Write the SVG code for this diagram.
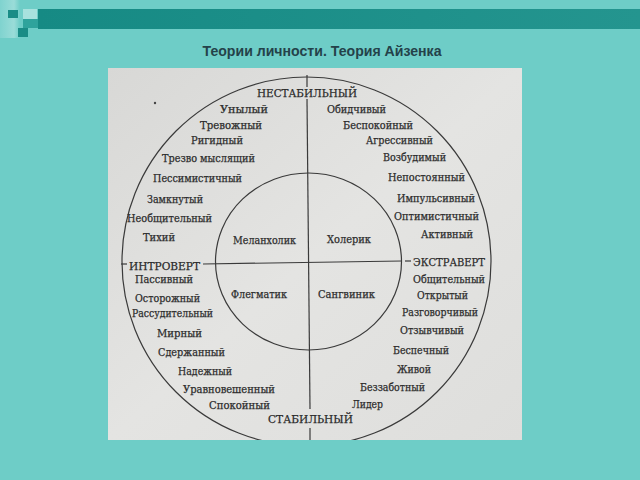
<svg xmlns="http://www.w3.org/2000/svg" width="640" height="480" viewBox="0 0 640 480">
  <defs>
    <linearGradient id="bar" x1="0" y1="0" x2="1" y2="0">
      <stop offset="0" stop-color="#168a84"/>
      <stop offset="1" stop-color="#24958f"/>
    </linearGradient>
    <linearGradient id="strip" x1="0" y1="0" x2="1" y2="0">
      <stop offset="0" stop-color="#7fd3cf"/>
      <stop offset="0.7" stop-color="#9adcd8"/>
      <stop offset="1" stop-color="#6ecdc7"/>
    </linearGradient>
    <linearGradient id="paper" x1="0" y1="0" x2="1" y2="1">
      <stop offset="0" stop-color="#d8d8d6"/>
      <stop offset="0.5" stop-color="#e4e4e2"/>
      <stop offset="1" stop-color="#dededc"/>
    </linearGradient>
    <clipPath id="pageClip">
      <rect x="108" y="68" width="414" height="372"/>
    </clipPath>
    <style>
      .lbl { font-family: "DejaVu Serif", "Liberation Serif", serif; font-size: 10.5px; fill: #2c2c2c; stroke: #2c2c2c; stroke-width: 0.25; }
      .cap { font-family: "DejaVu Serif", "Liberation Serif", serif; font-size: 11.5px; fill: #2a2a2a; stroke: #2a2a2a; stroke-width: 0.25; }
      .ln { fill: none; stroke: #3a3a3a; stroke-width: 1.2; }
    </style>
  </defs>

  <g id="background">
    <rect x="0" y="0" width="640" height="480" fill="#6ecdc7"/>
    <rect x="0" y="0" width="20" height="38" fill="url(#strip)"/>
    <rect x="38" y="9" width="602" height="20" fill="url(#bar)"/>
    <rect x="8" y="10" width="10" height="8" fill="#1a8c86"/>
    <rect x="23" y="9" width="14" height="10" fill="#a8e2de"/>
    <rect x="23" y="19" width="15" height="9" fill="#2fa39c"/>
    <rect x="18" y="28" width="10" height="9" fill="#1a8c86"/>
  </g>

  <g id="title">
    <text x="322" y="56" text-anchor="middle" textLength="239" lengthAdjust="spacingAndGlyphs" font-family="Liberation Sans, Arial, sans-serif" font-size="14" font-weight="bold" fill="#24424a">Теории личности. Теория Айзенка</text>
  </g>

  <g id="page">
    <rect x="108" y="68" width="414" height="372" fill="url(#paper)"/>
    <circle cx="155" cy="103" r="1.2" fill="#444"/>
  </g>

  <g id="connectors">
    <circle class="ln" cx="306.5" cy="261.5" r="184.5" clip-path="url(#pageClip)"/>
    <ellipse class="ln" cx="308.5" cy="261.5" rx="93" ry="88.5"/>
    <line class="ln" x1="307" y1="75" x2="307" y2="87"/>
    <line class="ln" x1="307" y1="99" x2="310" y2="409"/>
    <line class="ln" x1="310" y1="428" x2="310" y2="440"/>
    <line class="ln" x1="121" y1="264" x2="127" y2="264"/>
    <line class="ln" x1="203" y1="264" x2="402" y2="261"/>
    <line class="ln" x1="405" y1="261" x2="411" y2="261"/>
  </g>

  <g id="axis-labels">
    <text class="cap" x="257" y="97" textLength="100" lengthAdjust="spacingAndGlyphs">НЕСТАБИЛЬНЫЙ</text>
    <text class="cap" x="268" y="423" textLength="85" lengthAdjust="spacingAndGlyphs">СТАБИЛЬНЫЙ</text>
    <text class="cap" x="129" y="270" textLength="71" lengthAdjust="spacingAndGlyphs">ИНТРОВЕРТ</text>
    <text class="cap" x="413" y="266" textLength="72" lengthAdjust="spacingAndGlyphs">ЭКСТРАВЕРТ</text>
  </g>

  <g id="types">
    <text class="lbl" x="233" y="244" textLength="63" lengthAdjust="spacingAndGlyphs">Меланхолик</text>
    <text class="lbl" x="327" y="243" textLength="44" lengthAdjust="spacingAndGlyphs">Холерик</text>
    <text class="lbl" x="231" y="298" textLength="56" lengthAdjust="spacingAndGlyphs">Флегматик</text>
    <text class="lbl" x="318" y="298" textLength="57" lengthAdjust="spacingAndGlyphs">Сангвиник</text>
  </g>

  <g id="traits-unstable-introvert">
    <text class="lbl" x="220" y="113" textLength="48" lengthAdjust="spacingAndGlyphs">Унылый</text>
    <text class="lbl" x="200" y="129" textLength="62" lengthAdjust="spacingAndGlyphs">Тревожный</text>
    <text class="lbl" x="191" y="144" textLength="52" lengthAdjust="spacingAndGlyphs">Ригидный</text>
    <text class="lbl" x="162" y="162" textLength="93" lengthAdjust="spacingAndGlyphs">Трезво мыслящий</text>
    <text class="lbl" x="153" y="182" textLength="89" lengthAdjust="spacingAndGlyphs">Пессимистичный</text>
    <text class="lbl" x="147" y="203" textLength="56" lengthAdjust="spacingAndGlyphs">Замкнутый</text>
    <text class="lbl" x="127" y="222" textLength="85" lengthAdjust="spacingAndGlyphs">Необщительный</text>
    <text class="lbl" x="143" y="241" textLength="32" lengthAdjust="spacingAndGlyphs">Тихий</text>
  </g>

  <g id="traits-stable-introvert">
    <text class="lbl" x="135" y="283" textLength="58" lengthAdjust="spacingAndGlyphs">Пассивный</text>
    <text class="lbl" x="135" y="302" textLength="65" lengthAdjust="spacingAndGlyphs">Осторожный</text>
    <text class="lbl" x="132" y="317" textLength="81" lengthAdjust="spacingAndGlyphs">Рассудительный</text>
    <text class="lbl" x="157" y="337" textLength="45" lengthAdjust="spacingAndGlyphs">Мирный</text>
    <text class="lbl" x="158" y="356" textLength="67" lengthAdjust="spacingAndGlyphs">Сдержанный</text>
    <text class="lbl" x="178" y="375" textLength="54" lengthAdjust="spacingAndGlyphs">Надежный</text>
    <text class="lbl" x="183" y="393" textLength="92" lengthAdjust="spacingAndGlyphs">Уравновешенный</text>
    <text class="lbl" x="209" y="409" textLength="61" lengthAdjust="spacingAndGlyphs">Спокойный</text>
  </g>

  <g id="traits-unstable-extravert">
    <text class="lbl" x="327" y="113" textLength="59" lengthAdjust="spacingAndGlyphs">Обидчивый</text>
    <text class="lbl" x="343" y="129" textLength="70" lengthAdjust="spacingAndGlyphs">Беспокойный</text>
    <text class="lbl" x="366" y="144" textLength="67" lengthAdjust="spacingAndGlyphs">Агрессивный</text>
    <text class="lbl" x="383" y="161" textLength="63" lengthAdjust="spacingAndGlyphs">Возбудимый</text>
    <text class="lbl" x="388" y="181" textLength="77" lengthAdjust="spacingAndGlyphs">Непостоянный</text>
    <text class="lbl" x="397" y="202" textLength="78" lengthAdjust="spacingAndGlyphs">Импульсивный</text>
    <text class="lbl" x="394" y="220" textLength="85" lengthAdjust="spacingAndGlyphs">Оптимистичный</text>
    <text class="lbl" x="421" y="238" textLength="52" lengthAdjust="spacingAndGlyphs">Активный</text>
  </g>

  <g id="traits-stable-extravert">
    <text class="lbl" x="413" y="283" textLength="72" lengthAdjust="spacingAndGlyphs">Общительный</text>
    <text class="lbl" x="417" y="299" textLength="51" lengthAdjust="spacingAndGlyphs">Открытый</text>
    <text class="lbl" x="402" y="316" textLength="76" lengthAdjust="spacingAndGlyphs">Разговорчивый</text>
    <text class="lbl" x="400" y="334" textLength="64" lengthAdjust="spacingAndGlyphs">Отзывчивый</text>
    <text class="lbl" x="393" y="354" textLength="56" lengthAdjust="spacingAndGlyphs">Беспечный</text>
    <text class="lbl" x="397" y="373" textLength="34" lengthAdjust="spacingAndGlyphs">Живой</text>
    <text class="lbl" x="360" y="391" textLength="65" lengthAdjust="spacingAndGlyphs">Беззаботный</text>
    <text class="lbl" x="352" y="408" textLength="31" lengthAdjust="spacingAndGlyphs">Лидер</text>
  </g>
</svg>
